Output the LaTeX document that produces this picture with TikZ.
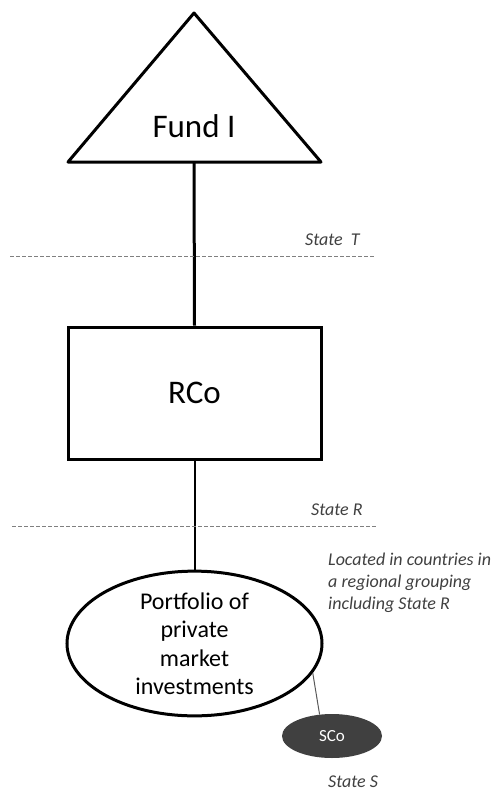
\documentclass[tikz,border=0pt]{standalone}
\usepackage{fontspec}
\setmainfont{Carlito}
\usetikzlibrary{shapes.geometric}

\begin{document}
\begin{tikzpicture}[x=1pt,y=-1pt]
  \tikzstyle{entity}=[draw, line width=3pt, inner sep=0pt, font=\fontsize{33}{38}\selectfont]
  \tikzstyle{border}=[draw=gray, line width=0.9pt, dash pattern=on 4pt off 2pt]
  \tikzstyle{statelabel}=[inner sep=0pt, text=black!75, font=\fontsize{18}{22}\selectfont\itshape]
  \useasboundingbox (0,0) rectangle (502,790);

  \coordinate (F_top) at (194,13);
  \coordinate (F_left) at (68,162);
  \coordinate (F_right) at (321,162);
  \coordinate (F_base) at (194,162);
  \draw[line width=3pt, line join=round] (F_top) -- (F_right) -- (F_left) -- cycle;
  \node[inner sep=0pt, anchor=base, font=\fontsize{33}{38}\selectfont] (F) at (194,137) {Fund I};

  \node[entity, rectangle, minimum width=253pt, minimum height=132pt] (R) at (194.5,393) {RCo};
  \node[entity, ellipse, minimum width=255pt, minimum height=133pt, align=center,
        font=\fontsize{24}{28.5}\selectfont] (P) at (194.5,643.5) {Portfolio of\\private\\market\\investments};
  \node[ellipse, fill=black!75, text=white, minimum width=100pt, minimum height=44pt,
        inner sep=0pt, font=\fontsize{17}{20}\selectfont] (S) at (332,736) {SCo};

  \draw[line width=3pt] (F_base) -- (R.north);
  \draw[line width=2pt] (R.south) -- (P.north);
  \draw[line width=1pt, black!65] (P.-14) -- (S.120);

  \coordinate (T_a) at (10,256);
  \coordinate (T_b) at (374,256);
  \coordinate (R_a) at (12,526);
  \coordinate (R_b) at (376,526);
  \draw[border] (T_a) -- (T_b);
  \draw[border] (R_a) -- (R_b);

  \node[statelabel, anchor=base west] (T_lab) at (305,245) {State\ \ T};
  \node[statelabel, anchor=base west] (R_lab) at (311,515) {State R};
  \node[statelabel, anchor=north west, align=left] (loc) at (328,553) {Located in countries in\\a regional grouping\\including State R};
  \node[statelabel, anchor=base west] (S_lab) at (328,787) {State S};
\end{tikzpicture}
\end{document}
